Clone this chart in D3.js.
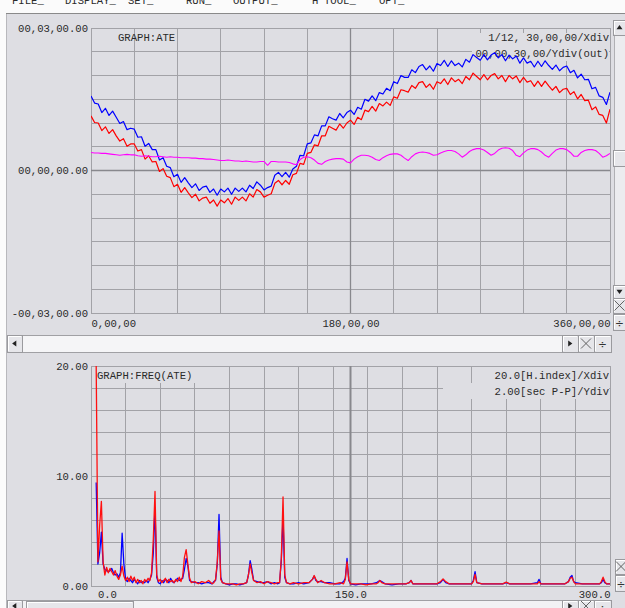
<!DOCTYPE html>
<html>
<head>
<meta charset="utf-8">
<script src="https://cdn.jsdelivr.net/npm/d3@7"></script>
<style>
  html, body { margin: 0; padding: 0; background: #ffffff; overflow: hidden; }
  svg { display: block; }
  text { font-family: "Liberation Mono", "DejaVu Sans Mono", monospace; font-size: 10.6px; fill: #2a2a2a; }
  .glyph { font-family: "DejaVu Sans", sans-serif; fill: #333; }
</style>
</head>
<body>
<svg id="chart" width="625" height="608"></svg>
<script>
// ---------- GRAPH:ATE (minutes, sampled every 2.5 degrees from 0 to 360) ----------
const ateStepDeg = 2.5;
const ateBlue = [
  1.57, 1.42, 1.40, 1.22, 1.31, 1.16, 1.25, 1.12, 0.99, 1.03,
  0.86, 0.89, 0.87, 0.70, 0.71, 0.51, 0.57, 0.44, 0.44, 0.22,
  0.27, 0.09, 0.06, -0.13, -0.08, -0.25, -0.15, -0.26, -0.36, -0.28,
  -0.42, -0.35, -0.33, -0.46, -0.39, -0.52, -0.39, -0.45, -0.37, -0.50,
  -0.37, -0.44, -0.37, -0.45, -0.31, -0.38, -0.24, -0.31, -0.41, -0.36,
  -0.33, -0.10, -0.04, -0.13, -0.04, -0.14, 0.03, 0.09, 0.32, 0.31,
  0.56, 0.58, 0.75, 0.73, 0.94, 0.94, 1.13, 1.09, 1.06, 1.20,
  1.11, 1.22, 1.27, 1.18, 1.33, 1.29, 1.50, 1.46, 1.57, 1.47,
  1.64, 1.61, 1.73, 1.68, 1.87, 1.83, 2.00, 1.96, 1.96, 2.12,
  2.06, 2.19, 2.23, 2.12, 2.20, 2.09, 2.25, 2.21, 2.32, 2.19,
  2.31, 2.21, 2.26, 2.18, 2.34, 2.28, 2.44, 2.38, 2.32, 2.44,
  2.33, 2.43, 2.48, 2.37, 2.44, 2.31, 2.43, 2.35, 2.41, 2.26,
  2.37, 2.26, 2.30, 2.18, 2.30, 2.19, 2.31, 2.21, 2.13, 2.22,
  2.10, 2.17, 2.20, 2.06, 2.11, 1.95, 2.03, 1.91, 1.92, 1.72,
  1.75, 1.57, 1.54, 1.39, 1.65
];
const ateRed = [
  1.15, 1.01, 1.00, 0.84, 0.92, 0.78, 0.86, 0.73, 0.62, 0.67,
  0.51, 0.56, 0.56, 0.41, 0.44, 0.24, 0.31, 0.18, 0.19, -0.02,
  0.04, -0.12, -0.15, -0.34, -0.29, -0.46, -0.36, -0.47, -0.57, -0.50,
  -0.64, -0.58, -0.56, -0.69, -0.62, -0.75, -0.62, -0.68, -0.59, -0.71,
  -0.56, -0.63, -0.56, -0.64, -0.49, -0.56, -0.40, -0.45, -0.56, -0.52,
  -0.49, -0.27, -0.21, -0.30, -0.21, -0.29, -0.09, -0.06, 0.15, 0.13,
  0.36, 0.38, 0.54, 0.52, 0.73, 0.73, 0.93, 0.89, 0.85, 0.98,
  0.89, 1.00, 1.06, 0.97, 1.12, 1.07, 1.27, 1.24, 1.35, 1.25,
  1.41, 1.36, 1.44, 1.37, 1.55, 1.52, 1.70, 1.68, 1.65, 1.79,
  1.73, 1.85, 1.87, 1.75, 1.82, 1.71, 1.87, 1.83, 1.93, 1.81,
  1.95, 1.87, 1.92, 1.83, 1.98, 1.91, 2.05, 1.98, 1.91, 2.02,
  1.91, 2.00, 2.04, 1.93, 2.00, 1.87, 2.00, 1.93, 1.99, 1.85,
  1.96, 1.86, 1.89, 1.77, 1.88, 1.77, 1.88, 1.78, 1.69, 1.77,
  1.64, 1.71, 1.73, 1.60, 1.66, 1.51, 1.60, 1.47, 1.48, 1.28,
  1.34, 1.18, 1.16, 1.00, 1.29
];
const ateMagenta = [
  0.38, 0.37, 0.37, 0.36, 0.36, 0.35, 0.34, 0.33, 0.32, 0.33,
  0.34, 0.33, 0.33, 0.31, 0.30, 0.31, 0.30, 0.29, 0.29, 0.30,
  0.29, 0.28, 0.29, 0.28, 0.28, 0.27, 0.27, 0.27, 0.26, 0.26,
  0.25, 0.25, 0.24, 0.24, 0.23, 0.22, 0.21, 0.21, 0.22, 0.21,
  0.20, 0.20, 0.19, 0.20, 0.19, 0.18, 0.18, 0.19, 0.19, 0.11,
  0.19, 0.19, 0.18, 0.18, 0.18, 0.17, 0.14, 0.12, 0.23, 0.28,
  0.29, 0.27, 0.22, 0.15, 0.13, 0.19, 0.22, 0.24, 0.25, 0.25,
  0.24, 0.18, 0.16, 0.24, 0.29, 0.32, 0.32, 0.31, 0.28, 0.23,
  0.21, 0.27, 0.31, 0.34, 0.35, 0.35, 0.32, 0.26, 0.21, 0.29,
  0.35, 0.38, 0.39, 0.38, 0.36, 0.32, 0.33, 0.37, 0.40, 0.42,
  0.42, 0.40, 0.35, 0.28, 0.33, 0.40, 0.44, 0.46, 0.46, 0.43,
  0.38, 0.32, 0.36, 0.43, 0.47, 0.48, 0.47, 0.42, 0.32, 0.29,
  0.37, 0.43, 0.46, 0.46, 0.44, 0.39, 0.32, 0.28, 0.36, 0.43,
  0.46, 0.46, 0.44, 0.38, 0.30, 0.30, 0.38, 0.42, 0.44, 0.44,
  0.42, 0.36, 0.28, 0.31, 0.36
];
const ateYTicks = [3, 0, -3];
const ateYLabels = ["00,03,00.00", "00,00,00.00", "-00,03,00.00"];
const ateXTicks = [0, 180, 360];
const ateXLabels = ["0,00,00", "180,00,00", "360,00,00"];
const ateTitle = "GRAPH:ATE";
const ateNotes = ["1/12, 30,00,00/Xdiv", "00,00,30,00/Ydiv(out)"];

// ---------- GRAPH:FREQ(ATE) (sec P-P against harmonic index) ----------
const freqH = [
  3, 4, 5, 6, 7, 8, 9, 10, 11, 12, 13, 14, 15, 16, 17, 18, 19, 20,
  21, 22, 23, 24, 25, 26, 27, 28, 29, 30, 31, 32, 33, 34, 35, 36, 37, 38,
  39, 40, 41, 42, 43, 44, 45, 46, 47, 48, 49, 50, 51, 52, 53, 54, 55, 56,
  57, 58, 60, 62, 64, 66, 68, 70, 71, 72, 73, 74, 75, 76, 78, 80, 82, 84,
  86, 88, 90, 91, 92, 93, 94, 96, 98, 100, 102, 104, 106, 108, 109, 110, 111, 112,
  113, 115, 117, 120, 123, 126, 128, 129, 130, 131, 133, 135, 138, 141, 144, 146, 147, 148,
  149, 150, 153, 156, 159, 162, 165, 166, 167, 168, 170, 174, 178, 182, 184, 185, 186, 190,
  195, 200, 202, 203.5, 205, 207, 212, 217, 220, 221, 222, 223, 226, 232, 238, 240, 242, 248,
  254, 258, 259, 260, 264, 270, 274, 276, 277, 278, 279, 280, 284, 290, 294, 295, 296, 297,
  298, 300
];
const freqRed = [
  20, 2.2, 5.5, 7.7, 2.2, 1.0, 1.7, 1.2, 1.6, 1.3, 1.0, 1.4, 0.9, 0.6, 1.0, 1.8, 0.9, 0.5,
  0.8, 0.4, 0.9, 0.5, 0.8, 0.3, 0.6, 0.3, 0.5, 0.2, 0.6, 0.4, 0.7, 0.5, 1.2, 4.2, 8.6, 1.0,
  0.4, 0.6, 0.3, 0.5, 0.7, 0.3, 0.6, 0.4, 0.5, 0.3, 0.6, 0.4, 0.8, 0.4, 0.9, 2.6, 3.3, 2.0,
  0.7, 0.3, 0.4, 0.2, 0.4, 0.3, 0.5, 0.2, 0.3, 0.6, 2.2, 5.0, 0.6, 0.3, 0.2, 0.2, 0.2, 0.1,
  0.2, 0.2, 0.3, 1.0, 2.0, 1.2, 0.5, 0.3, 0.4, 0.2, 0.4, 0.3, 0.2, 0.3, 0.3, 2.5, 8.1, 1.0,
  0.3, 0.2, 0.3, 0.2, 0.3, 0.3, 0.6, 0.95, 0.6, 0.3, 0.5, 0.3, 0.2, 0.2, 0.3, 0.2, 0.6, 2.2,
  0.6, 0.2, 0.2, 0.2, 0.1, 0.2, 0.2, 0.3, 0.5, 0.3, 0.2, 0.2, 0.2, 0.2, 0.3, 0.5, 0.2, 0.2,
  0.2, 0.2, 0.4, 0.65, 0.4, 0.2, 0.2, 0.2, 0.2, 0.4, 1.05, 0.3, 0.2, 0.2, 0.2, 0.35, 0.2, 0.2,
  0.2, 0.2, 0.4, 0.2, 0.2, 0.2, 0.2, 0.4, 0.7, 0.8, 0.4, 0.2, 0.2, 0.2, 0.2, 0.4, 0.8, 0.4,
  0.2, 0.2
];
const freqBlue = [
  9.4, 2.0, 3.0, 4.9, 2.0, 1.5, 1.4, 1.3, 1.4, 1.6, 1.2, 1.0, 1.1, 0.8, 1.2, 4.8, 2.0, 0.6,
  0.4, 0.7, 0.5, 0.3, 0.6, 0.4, 0.2, 0.5, 0.3, 0.4, 0.3, 0.5, 0.3, 0.6, 1.0, 3.0, 7.1, 0.8,
  0.3, 0.2, 0.5, 0.3, 0.6, 0.5, 0.3, 0.7, 0.4, 0.3, 0.5, 0.7, 0.5, 0.6, 0.7, 1.5, 2.5, 1.8,
  0.5, 0.4, 0.3, 0.3, 0.2, 0.3, 0.3, 0.2, 0.4, 0.5, 2.0, 6.5, 0.8, 0.3, 0.2, 0.1, 0.2, 0.2,
  0.1, 0.2, 0.3, 1.0, 2.3, 1.5, 0.5, 0.4, 0.3, 0.3, 0.4, 0.2, 0.3, 0.2, 0.3, 2.3, 6.2, 0.8,
  0.3, 0.2, 0.2, 0.3, 0.2, 0.3, 0.6, 0.9, 0.5, 0.4, 0.4, 0.3, 0.3, 0.2, 0.2, 0.4, 0.7, 2.5,
  0.5, 0.2, 0.1, 0.2, 0.2, 0.2, 0.3, 0.4, 0.5, 0.4, 0.2, 0.1, 0.2, 0.2, 0.3, 0.5, 0.2, 0.2,
  0.2, 0.2, 0.3, 0.6, 0.3, 0.2, 0.2, 0.2, 0.2, 0.5, 1.3, 0.3, 0.2, 0.2, 0.2, 0.3, 0.2, 0.2,
  0.2, 0.3, 0.6, 0.2, 0.2, 0.2, 0.2, 0.4, 0.8, 0.95, 0.4, 0.3, 0.2, 0.2, 0.2, 0.3, 0.6, 0.3,
  0.2, 0.2
];
const freqYTicks = [20, 10, 0];
const freqYLabels = ["20.00", "10.00", "0.00"];
const freqXTicks = [0, 150, 300];
const freqXLabels = ["0.0", "150.0", "300.0"];
const freqTitle = "GRAPH:FREQ(ATE)";
const freqNotes = ["20.0[H.index]/Xdiv", "2.00[sec P-P]/Ydiv"];

const menuItems = ["FILE_", "DISPLAY_", "SET_", "RUN_", "OUTPUT_", "H", "TOOL_", "OPT_"];

// ---------- drawing ----------
const BG = "#dedee3";
const GRID = "#a2a2a7";
const CENTER = "#88888d";
const svg = d3.select("#chart");

svg.append("rect").attr("width", 625).attr("height", 608).attr("fill", "#fbfbfb");
svg.append("rect").attr("x", 6).attr("y", 14).attr("width", 619).attr("height", 594).attr("fill", BG);
svg.append("line").attr("x1", 6).attr("x2", 625).attr("y1", 13.5).attr("y2", 13.5)
  .attr("stroke", "#8a8a8a");
svg.append("line").attr("x1", 6.5).attr("x2", 6.5).attr("y1", 14).attr("y2", 608)
  .attr("stroke", "#b8b8bc");

// menu strip, scrolled up so only its lower edge shows
const menuX = [12, 65, 128, 186, 233, 312, 324, 379];
svg.append("g").selectAll("text").data(menuItems).join("text")
  .attr("x", (d, i) => menuX[i]).attr("y", 4).attr("font-size", "11px").attr("fill", "#444")
  .text(d => d);

function drawPanel(cfg) {
  const g = svg.append("g");
  const x = cfg.x, y = cfg.y;
  const [x0, x1] = x.range();
  const [y0, y1] = y.range(); // y0 bottom, y1 top

  // grid
  const grid = g.append("g").attr("shape-rendering", "crispEdges").attr("stroke", GRID);
  grid.selectAll("line.v").data(cfg.xGrid).join("line").attr("class", "v")
    .attr("x1", d => x(d)).attr("x2", d => x(d)).attr("y1", y1).attr("y2", y0);
  grid.selectAll("line.h").data(cfg.yGrid).join("line").attr("class", "h")
    .attr("y1", d => y(d)).attr("y2", d => y(d)).attr("x1", x0).attr("x2", x1);

  // centre markers
  cfg.xCenter.forEach(v => g.append("line").attr("x1", x(v)).attr("x2", x(v))
    .attr("y1", y1).attr("y2", y0).attr("stroke", CENTER).attr("stroke-width", cfg.centerW));
  cfg.yCenter.forEach(v => g.append("line").attr("y1", y(v)).attr("y2", y(v))
    .attr("x1", x0).attr("x2", x1).attr("stroke", CENTER).attr("stroke-width", 1.3));

  // boxes behind the captions
  cfg.boxes.forEach(b => g.append("rect").attr("x", b[0]).attr("y", b[1])
    .attr("width", b[2] - b[0]).attr("height", b[3] - b[1]).attr("fill", BG));

  // axes (labels only)
  const ya = g.append("g").attr("transform", `translate(${x0},0)`)
    .call(d3.axisLeft(y).tickValues(cfg.yTicks).tickSize(0).tickPadding(3)
      .tickFormat((d, i) => cfg.yLabels[i]));
  const xa = g.append("g").attr("transform", `translate(0,${y0})`)
    .call(d3.axisBottom(x).tickValues(cfg.xTicks).tickSize(0).tickPadding(cfg.xPad)
      .tickFormat((d, i) => cfg.xLabels[i]));
  [ya, xa].forEach(a => {
    a.select(".domain").remove();
    a.attr("font-family", null).attr("font-size", null);
    a.selectAll("text").attr("fill", "#2a2a2a");
  });
  xa.selectAll(".tick text")
    .attr("text-anchor", (d, i) => i === 0 ? "start" : (i === cfg.xTicks.length - 1 ? "end" : "middle"))
    .attr("dx", (d, i) => i === 0 ? cfg.firstDx : 0);

  // captions
  g.append("text").attr("x", cfg.titleX).attr("y", cfg.titleY).text(cfg.title);
  g.selectAll("text.note").data(cfg.notes).join("text").attr("class", "note")
    .attr("x", x1 - 1).attr("y", (d, i) => cfg.noteY + i * cfg.noteGap)
    .attr("text-anchor", "end").text(d => d);

  // series
  const clipId = cfg.id + "-clip";
  svg.append("clipPath").attr("id", clipId).append("rect")
    .attr("x", x0).attr("y", y1 - 1).attr("width", x1 - x0).attr("height", y0 - y1 + 1);
  const plot = g.append("g").attr("clip-path", `url(#${clipId})`);
  cfg.series.forEach(s => {
    plot.append("path").datum(s.values)
      .attr("fill", "none").attr("stroke", s.color).attr("stroke-width", s.width)
      .attr("stroke-linejoin", "round")
      .attr("d", d3.line().x((d, i) => x(s.xs(i))).y(d => y(d)));
  });
}

// upper panel
const xAte = d3.scaleLinear().domain([0, 360]).range([91, 610]);
const yAte = d3.scaleLinear().domain([-3, 3]).range([313, 28]);
drawPanel({
  id: "ate", x: xAte, y: yAte,
  xGrid: d3.range(0, 361, 30), yGrid: d3.range(-3, 3.001, 0.5),
  xCenter: [180], yCenter: [0], centerW: 1.3,
  boxes: [[472, 33, 609, 61]],
  yTicks: ateYTicks, yLabels: ateYLabels,
  xTicks: ateXTicks, xLabels: ateXLabels, xPad: 6.5, firstDx: 0,
  title: ateTitle, titleX: 118, titleY: 41,
  notes: ateNotes, noteY: 41, noteGap: 16,
  series: [
    { values: ateRed, color: "#ff0000", width: 1.2, xs: i => i * ateStepDeg },
    { values: ateBlue, color: "#0000ff", width: 1.2, xs: i => i * ateStepDeg },
    { values: ateMagenta, color: "#ff00ff", width: 1.1, xs: i => i * ateStepDeg }
  ]
});

// lower panel
const xFreq = d3.scaleLinear().domain([0, 300]).range([91, 610]);
const yFreq = d3.scaleLinear().domain([0, 20]).range([586, 366]);
drawPanel({
  id: "freq", x: xFreq, y: yFreq,
  xGrid: d3.range(0, 301, 20), yGrid: d3.range(0, 20.001, 2),
  xCenter: [150], yCenter: [], centerW: 2,
  boxes: [[92, 367, 200, 383], [490, 367, 609, 399], [443, 383, 609, 399]],
  yTicks: freqYTicks, yLabels: freqYLabels,
  xTicks: freqXTicks, xLabels: freqXLabels, xPad: 4.5, firstDx: 6.4,
  title: freqTitle, titleX: 97, titleY: 379,
  notes: freqNotes, noteY: 379, noteGap: 16,
  series: [
    { values: freqBlue, color: "#0000ff", width: 1.3, xs: i => freqH[i] },
    { values: freqRed, color: "#ff1010", width: 1.3, xs: i => freqH[i] }
  ]
});

// ---------- window controls ----------
const ui = svg.append("g");
function button(x, y, w, h, fill) {
  ui.append("rect").attr("x", x).attr("y", y).attr("width", w).attr("height", h)
    .attr("fill", fill || "#e6e6ea").attr("stroke", "#9a9a9e").attr("shape-rendering", "crispEdges");
  ui.append("path").attr("d", `M${x + 1},${y + h - 1}V${y + 1}H${x + w - 1}`)
    .attr("fill", "none").attr("stroke", "#ffffff").attr("shape-rendering", "crispEdges");
}
function tri(cx, cy, dir) {
  const s = 3;
  const pts = {
    left: [[cx + s * 0.6, cy - s], [cx + s * 0.6, cy + s], [cx - s * 0.8, cy]],
    right: [[cx - s * 0.6, cy - s], [cx - s * 0.6, cy + s], [cx + s * 0.8, cy]],
    up: [[cx - s, cy + s * 0.6], [cx + s, cy + s * 0.6], [cx, cy - s * 0.8]],
    down: [[cx - s, cy - s * 0.6], [cx + s, cy - s * 0.6], [cx, cy + s * 0.8]]
  }[dir];
  ui.append("path").attr("d", "M" + pts.join("L") + "Z").attr("fill", "#222");
}
function cross(cx, cy, r) {
  ui.append("path").attr("d", `M${cx - r},${cy - r}L${cx + r},${cy + r}M${cx + r},${cy - r}L${cx - r},${cy + r}`)
    .attr("stroke", "#555").attr("stroke-width", 0.9);
}
function divide(cx, cy) {
  ui.append("text").attr("class", "glyph").attr("x", cx).attr("y", cy + 4.5)
    .attr("text-anchor", "middle").attr("font-size", "13px").text("÷");
}

// horizontal scroll bar under the upper panel
ui.append("rect").attr("x", 22).attr("y", 335).attr("width", 540).attr("height", 17)
  .attr("fill", "#f5f5f7").attr("stroke", "#a0a0a4").attr("shape-rendering", "crispEdges");
button(7, 335, 15, 17); tri(14.5, 343.5, "left");
button(562, 335, 16, 17); tri(570, 343.5, "right");
button(578, 335, 16, 17); cross(586, 343.5, 5);
button(594, 335, 17, 17); divide(602.5, 343.5);

// vertical scroll column beside the upper panel
ui.append("rect").attr("x", 614).attr("y", 35).attr("width", 12).attr("height", 250)
  .attr("fill", "#ececef").attr("stroke", "#b0b0b4").attr("shape-rendering", "crispEdges");
button(613, 20, 13, 15); tri(619.5, 27.5, "up");
button(613, 150, 13, 16);
button(613, 285, 13, 13); tri(619.5, 291.5, "down");
button(613, 298, 13, 15); cross(619.5, 305.5, 5);
button(613, 314, 13, 16); divide(619.5, 322);

// side controls beside the lower panel
button(615, 559, 11, 15); cross(621, 566.5, 5);
button(615, 575, 11, 16); divide(621, 583);

// horizontal scroll bar under the lower panel
ui.append("rect").attr("x", 22).attr("y", 600).attr("width", 540).attr("height", 17)
  .attr("fill", "#f2f2f4").attr("stroke", "#a0a0a4").attr("shape-rendering", "crispEdges");
button(26, 601, 107, 15);
button(7, 600, 15, 17); tri(14.5, 606, "left");
button(562, 600, 16, 17); tri(570, 606, "right");
button(578, 600, 16, 17); cross(586, 606, 5);
button(594, 600, 17, 17); divide(602.5, 607);
</script>
</body>
</html>
